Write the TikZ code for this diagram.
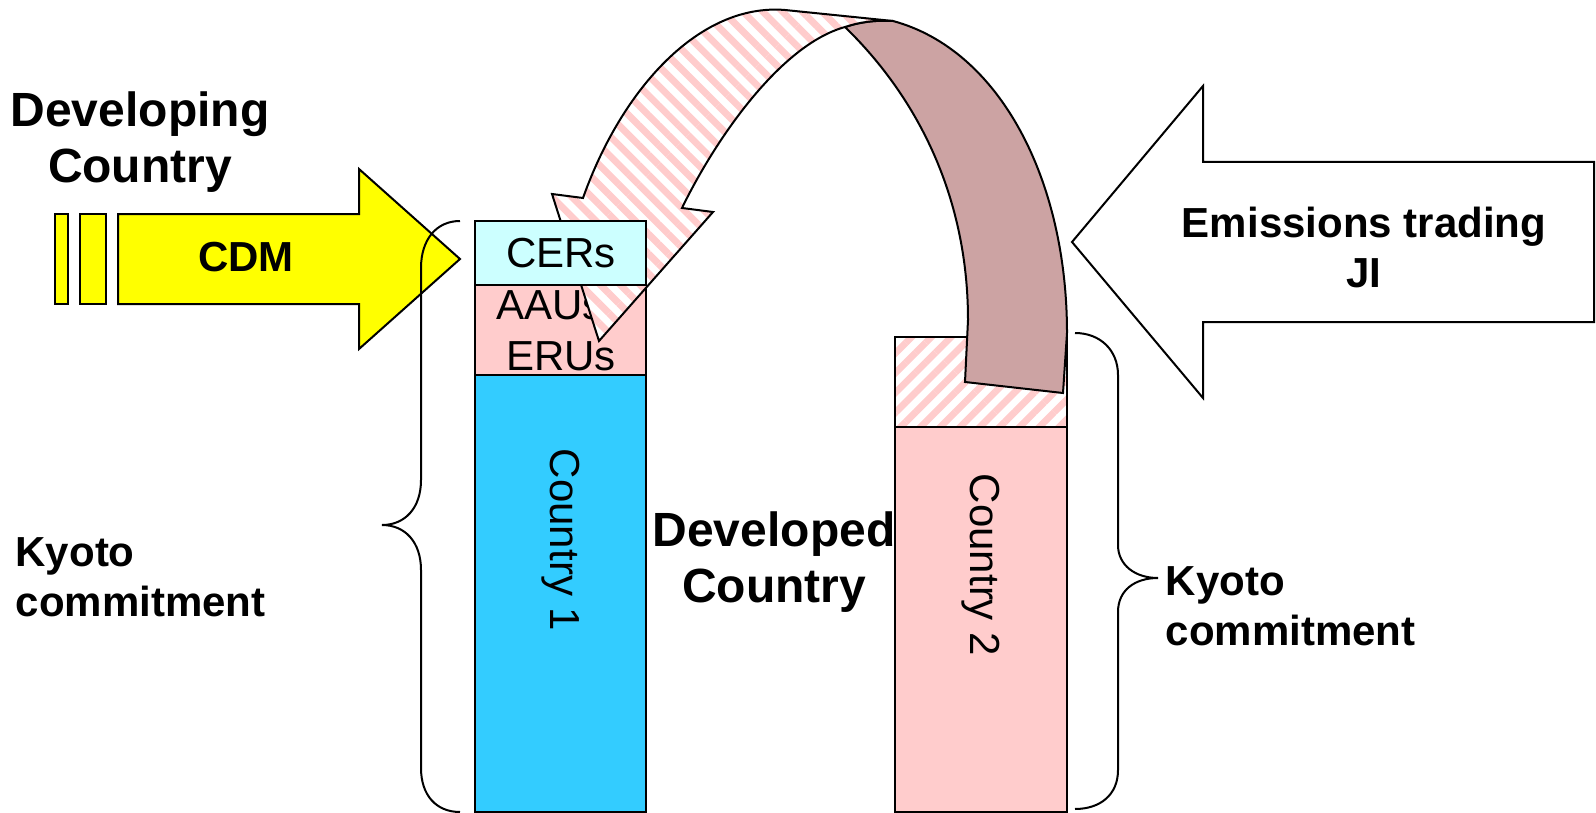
\documentclass[tikz,border=0pt]{standalone}
\usepackage{fontspec}
\setmainfont{Liberation Sans}
\usetikzlibrary{patterns.meta}
\definecolor{cdmyellow}{rgb}{1, 1, 0}
\definecolor{cblue}{RGB}{51, 204, 255}
\definecolor{cercyan}{RGB}{204, 255, 255}
\definecolor{aaupink}{RGB}{255, 204, 204}
\definecolor{tradebrown}{RGB}{204, 163, 163}
\tikzset{box/.style = {draw, line width=1pt},
         hatch/.style = {preaction={fill=white},
                         pattern={Lines[angle=#1, distance=7pt, line width=3.4pt]},
                         pattern color=aaupink},
         boldlabel/.style = {font=\fontsize{21}{25}\selectfont\bfseries},
         biglabel/.style = {font=\fontsize{24}{28}\selectfont\bfseries, align=center},
         reglabel/.style = {font=\fontsize{21}{25.5}\selectfont}}

\begin{document}
\begin{tikzpicture}[x=0.5pt, y=-0.5pt, line width=1pt]
    \useasboundingbox (0, 0) rectangle (1596, 813);

    \draw [box, fill=cdmyellow] (55, 214) rectangle (68, 304);
    \draw [box, fill=cdmyellow] (80, 214) rectangle (106, 304);
    \draw [box, fill=cdmyellow] (118, 214) -- (359, 214) -- (359, 169) -- (460, 259)
          -- (359, 349) -- (359, 304) -- (118, 304) -- cycle;
    \node [boldlabel] (cdm) at (246, 257) {CDM};

    \draw (460, 221) .. controls (436, 221) and (421, 240) .. (421, 268) -- (421, 480)
          .. controls (421, 508) and (405, 525) .. (382, 525)
          .. controls (405, 525) and (421, 542) .. (421, 570) -- (421, 768)
          .. controls (421, 795) and (436, 812) .. (460, 812);

    \draw [box, fill=cblue] (475, 375) rectangle (646, 812);
    \draw [box, fill=aaupink] (475, 285) rectangle (646, 375);
    \node [reglabel] (aaus) at (550, 305) {AAUs};
    \node [reglabel] (erus) at (561, 356) {ERUs};
    \node [reglabel, rotate=-90] (country1) at (561, 540) {Country 1};

    \draw [box, fill=aaupink] (895, 427) rectangle (1067, 812);
    \draw [box, hatch=45] (895, 337) rectangle (1067, 427);
    \node [reglabel, rotate=-90] (country2) at (981, 565) {Country 2};

    \draw [box, fill=tradebrown] (845, 27) .. controls (860, 22) and (875, 20) .. (893, 21)
          .. controls (1000, 50) and (1067, 180) .. (1067, 333) -- (1063, 393)
          -- (965, 382) -- (968, 320) .. controls (968, 200) and (920, 100) .. (845, 27);
    \draw [box, hatch=-45] (893, 21) -- (785, 10) .. controls (700, 3) and (622, 88) .. (583, 198)
          -- (552, 194) -- (599, 341) -- (713, 212) -- (682, 208)
          .. controls (715, 140) and (780, 45) .. (845, 27)
          .. controls (860, 22) and (875, 20) .. (893, 21);

    \draw [box, fill=cercyan] (475, 221) rectangle (646, 285);
    \node [reglabel] (cers) at (561, 253) {CERs};

    \draw [box, fill=white] (1594, 162) -- (1203, 162) -- (1203, 86) -- (1072, 242)
          -- (1203, 398) -- (1203, 322) -- (1594, 322) -- cycle;
    \node [boldlabel, align=center] (trading) at (1364, 247) {Emissions trading\\JI};

    \draw (1075, 333) .. controls (1100, 333) and (1118, 350) .. (1118, 375) -- (1118, 545)
          .. controls (1118, 565) and (1135, 578) .. (1158, 578)
          .. controls (1135, 578) and (1118, 590) .. (1118, 612) -- (1118, 770)
          .. controls (1118, 795) and (1100, 809) .. (1075, 809);

    \node [biglabel] (developing) at (140, 142) {Developing\\Country};
    \node [biglabel] (developed) at (774, 562) {Developed\\Country};
    \node [boldlabel, anchor=west, align=left] (kyotoleft) at (8, 577) {Kyoto\\commitment};
    \node [boldlabel, anchor=west, align=left] (kyotoright) at (1158, 606) {Kyoto\\commitment};
\end{tikzpicture}
\end{document}
